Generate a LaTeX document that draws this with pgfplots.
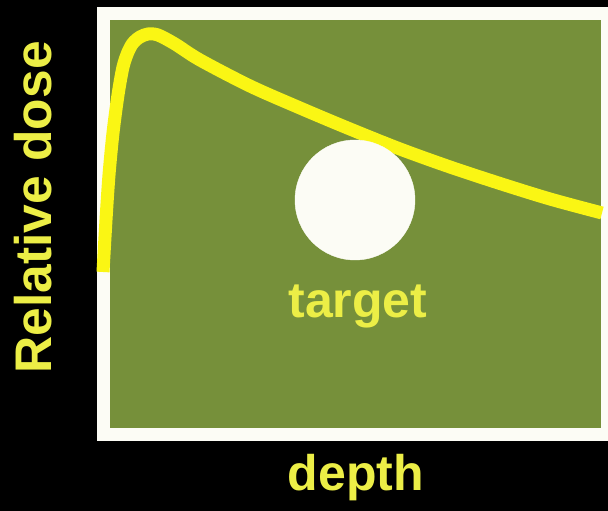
\documentclass[border=0pt]{standalone}
\usepackage{fontspec}
\setmainfont{Liberation Sans}
\usepackage{pgfplots}
\pgfplotsset{compat=1.18}
\definecolor{fieldgreen}{RGB}{118,144,58}
\definecolor{doseyellow}{RGB}{250,246,20}
\definecolor{textyellow}{RGB}{236,238,70}
\definecolor{framewhite}{RGB}{252,252,245}
\newcommand{\bigbold}{\fontsize{50}{60}\selectfont\bfseries}
\begin{document}
\begin{tikzpicture}
% page background and frame
\fill[black] (0,0) rectangle (608pt,511pt);
\fill[framewhite] (97pt,70pt) rectangle (620pt,504pt);
\fill[fieldgreen] (110pt,83pt) rectangle (601pt,491pt);
\begin{axis}[
    at={(110pt,83pt)}, anchor=south west,
    scale only axis, width=491pt, height=408pt,
    xmin=110, xmax=601, ymin=83, ymax=491,
    axis line style={draw=none}, ticks=none,
    clip=false,
    xlabel={depth}, ylabel={Relative dose},
    label style={font=\bigbold, text=textyellow},
    xlabel style={at={(axis description cs:0.501,-0.152)}, anchor=base},
    ylabel style={at={(axis description cs:-0.120,0.541)}, anchor=base,
                  font=\fontsize{51.5}{60}\selectfont\bfseries},
]
% target
\addplot[only marks, mark=*, mark size=60pt, framewhite] coordinates {(355,311)};
% depth-dose curve
\addplot[doseyellow, line width=13pt, smooth, line cap=butt] coordinates {
(103,239) (106,291) (109,336) (113,378) (118,416) (123,444) (128,459)
(133,468) (140,474) (148,477) (158,476) (175,467) (200,451)
(250,425) (300,403) (350,382) (400,362) (450,344) (500,327.5)
(550,312) (602,298)
};
\node[font=\bigbold, text=textyellow, anchor=base] at (axis cs:358,193) {target};
\end{axis}
\pgfresetboundingbox
\path (0,0) rectangle (608pt,511pt);
\end{tikzpicture}
\end{document}
